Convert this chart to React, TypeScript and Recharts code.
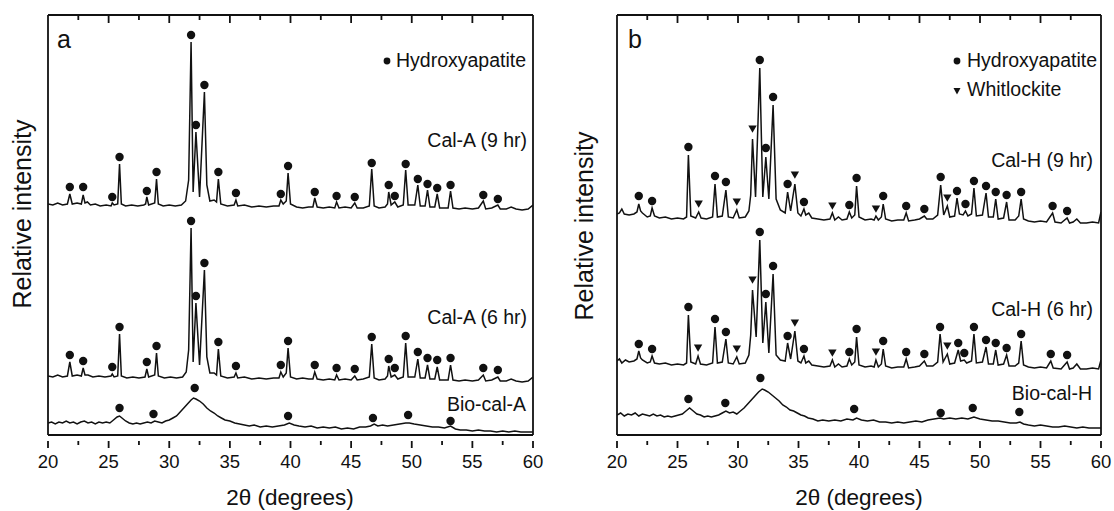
import { ComposedChart, Line, Scatter, XAxis, YAxis, ReferenceLine } from "recharts";

const FONT = "'Liberation Sans', Arial, Helvetica, sans-serif";
const INK = "#111";
const Y_MAX = 420;

// 2θ ticks: majors every 5°, minors in between
const majorTicks = [25, 30, 35, 40, 45, 50, 55];
const minorTicks = [22.5, 27.5, 32.5, 37.5, 42.5, 47.5, 52.5, 57.5];
const xTicks = [20, 22.5, 25, 27.5, 30, 32.5, 35, 37.5, 40, 42.5, 45, 47.5, 50, 52.5, 55, 57.5, 60];

// ---- panel a: [2θ, intensity (a.u.)] ----
const calA9 = [
  [20.0, 231], [20.4, 230], [20.8, 232], [21.2, 230], [21.6, 231], [21.8, 241], [22.0, 231], [22.4, 232],
  [22.75, 231], [22.9, 240], [23.05, 232], [23.25, 233], [23.5, 230], [23.9, 231], [24.3, 229], [24.8, 230],
  [25.2, 229], [25.3, 232], [25.45, 230], [25.75, 231], [25.9, 271], [26.05, 231], [26.4, 229], [26.9, 230],
  [27.4, 229], [27.9, 230], [28.05, 231], [28.15, 238], [28.3, 230], [28.8, 232], [28.95, 256], [29.1, 231],
  [29.5, 229], [30.0, 230], [30.5, 229], [31.0, 230], [31.35, 234], [31.6, 255], [31.8, 393], [31.97, 243],
  [32.2, 303], [32.5, 238], [32.9, 343], [33.1, 250], [33.35, 234], [33.7, 235], [33.9, 233], [34.05, 256],
  [34.25, 231], [34.8, 229], [35.35, 230], [35.5, 235], [35.65, 229], [36.2, 230], [36.8, 228], [37.4, 229],
  [38.0, 228], [38.6, 229], [39.05, 229], [39.2, 235], [39.4, 231], [39.65, 234], [39.8, 262], [40.0, 231],
  [40.5, 228], [41.0, 227], [41.5, 228], [41.85, 228], [42.0, 237], [42.2, 228], [42.7, 227], [43.2, 228],
  [43.65, 227], [43.8, 233], [44.0, 227], [44.5, 228], [45.0, 227], [45.3, 232], [45.5, 227], [46.0, 227],
  [46.5, 229], [46.7, 266], [46.9, 229], [47.3, 227], [47.8, 228], [48.0, 231], [48.1, 243], [48.3, 230],
  [48.6, 233], [48.85, 228], [49.3, 230], [49.5, 265], [49.7, 230], [50.25, 230], [50.5, 250], [50.7, 229],
  [51.1, 229], [51.3, 245], [51.5, 228], [51.9, 228], [52.1, 241], [52.3, 227], [52.7, 227], [53.0, 227],
  [53.2, 244], [53.4, 227], [53.9, 226], [54.4, 227], [55.0, 226], [55.5, 227], [55.9, 234], [56.1, 226],
  [56.6, 227], [57.1, 230], [57.3, 226], [57.8, 226], [58.2, 228], [58.6, 226], [59.1, 225], [59.6, 226],
  [60.0, 230],
];
const calA6 = [
  [20.0, 59], [20.4, 58], [20.8, 60], [21.2, 58], [21.6, 59], [21.8, 73], [22.0, 59], [22.4, 60],
  [22.75, 59], [22.9, 67], [23.05, 60], [23.3, 60], [23.7, 58], [24.2, 59], [24.7, 58], [25.2, 59],
  [25.3, 61], [25.45, 58], [25.75, 59], [25.9, 101], [26.05, 59], [26.5, 57], [27.0, 58], [27.5, 57],
  [28.0, 58], [28.15, 66], [28.3, 58], [28.8, 60], [28.95, 82], [29.1, 59], [29.6, 57], [30.1, 58],
  [30.6, 57], [31.1, 58], [31.4, 63], [31.6, 85], [31.8, 207], [31.97, 73], [32.2, 132], [32.5, 70],
  [32.9, 165], [33.1, 78], [33.35, 62], [33.7, 62], [33.9, 60], [34.05, 86], [34.25, 59], [34.8, 57],
  [35.35, 58], [35.5, 62], [35.65, 57], [36.2, 58], [36.8, 56], [37.4, 57], [38.0, 56], [38.6, 57],
  [39.05, 57], [39.2, 63], [39.4, 58], [39.65, 62], [39.8, 87], [40.0, 58], [40.5, 56], [41.0, 57],
  [41.5, 56], [41.85, 56], [42.0, 63], [42.2, 56], [42.7, 55], [43.2, 56], [43.65, 55], [43.8, 60],
  [44.0, 55], [44.5, 56], [45.0, 55], [45.3, 59], [45.5, 55], [46.0, 56], [46.5, 58], [46.7, 91],
  [46.9, 57], [47.3, 55], [47.8, 56], [48.0, 59], [48.1, 69], [48.3, 58], [48.6, 60], [48.85, 56],
  [49.3, 58], [49.5, 92], [49.7, 58], [50.25, 58], [50.5, 76], [50.7, 57], [51.1, 57], [51.3, 70],
  [51.5, 56], [51.9, 56], [52.1, 68], [52.3, 55], [52.7, 55], [53.0, 55], [53.2, 70], [53.4, 55],
  [53.9, 54], [54.4, 55], [55.0, 54], [55.5, 55], [55.9, 60], [56.1, 54], [56.6, 55], [57.1, 58],
  [57.3, 54], [57.8, 54], [58.2, 56], [58.6, 54], [59.1, 53], [59.6, 54], [60.0, 58],
];
const bioA = [
  [20.0, 12], [20.3, 13], [20.6, 11], [20.9, 13], [21.2, 12], [21.5, 14], [21.8, 12], [22.1, 13],
  [22.4, 11], [22.7, 13], [23.0, 14], [23.3, 12], [23.6, 13], [23.9, 11], [24.2, 13], [24.5, 12],
  [24.8, 13], [25.1, 12], [25.4, 15], [25.7, 18], [25.9, 19], [26.1, 17], [26.4, 14], [26.7, 12],
  [27.0, 11], [27.3, 12], [27.6, 11], [27.9, 12], [28.2, 13], [28.5, 12], [28.8, 14], [29.1, 13],
  [29.4, 12], [29.7, 14], [30.0, 15], [30.3, 17], [30.6, 19], [30.9, 23], [31.2, 27], [31.5, 31],
  [31.8, 35], [32.0, 37], [32.2, 36], [32.5, 34], [32.8, 31], [33.1, 27], [33.4, 24], [33.7, 22],
  [34.0, 19], [34.3, 17], [34.6, 15], [35.0, 14], [35.4, 12], [35.8, 11], [36.2, 10], [36.6, 9],
  [37.0, 10], [37.5, 8], [38.0, 9], [38.5, 8], [39.0, 9], [39.5, 10], [39.9, 12], [40.3, 10],
  [40.7, 9], [41.2, 8], [41.7, 9], [42.2, 7], [42.7, 8], [43.2, 7], [43.7, 8], [44.2, 6],
  [44.7, 7], [45.2, 6], [45.7, 8], [46.2, 8], [46.6, 9], [46.9, 11], [47.2, 9], [47.6, 10],
  [48.0, 9], [48.5, 10], [49.0, 11], [49.5, 12], [49.8, 12], [50.2, 11], [50.7, 10], [51.2, 9],
  [51.7, 8], [52.2, 8], [52.7, 7], [53.2, 9], [53.6, 6], [54.0, 5], [54.5, 5], [55.0, 4],
  [55.5, 5], [56.0, 4], [56.5, 4], [57.0, 3], [57.5, 4], [58.0, 3], [58.5, 4], [59.0, 3],
  [59.5, 3], [60.0, 3],
];
const hapA9 = [
  [21.8, 248], [22.9, 248], [25.3, 238], [25.9, 278], [28.15, 244], [28.95, 263], [31.8, 400], [32.2, 310],
  [32.9, 350], [34.05, 263], [35.5, 242], [39.2, 241], [39.8, 269], [42.0, 243], [43.8, 239], [45.3, 238],
  [46.7, 272], [48.1, 250], [48.6, 239], [49.5, 271], [50.5, 256], [51.3, 251], [52.1, 247], [53.2, 250],
  [55.9, 240], [57.1, 236],
];
const hapA6 = [
  [21.8, 80], [22.9, 74], [25.3, 68], [25.9, 108], [28.15, 73], [28.95, 89], [31.8, 214], [32.2, 139],
  [32.9, 172], [34.05, 93], [35.5, 69], [39.2, 70], [39.8, 94], [42.0, 70], [43.8, 67], [45.3, 66],
  [46.7, 98], [48.1, 76], [48.6, 67], [49.5, 99], [50.5, 83], [51.3, 77], [52.1, 75], [53.2, 77],
  [55.9, 67], [57.1, 65],
];
const hapABio = [[25.9, 27], [28.7, 21], [32.1, 47], [39.8, 19], [46.8, 17], [49.7, 20], [53.2, 14]];

// ---- panel b ----
const calH9 = [
  [20.0, 221], [20.2, 222], [20.4, 226], [20.6, 221], [21.0, 220], [21.4, 221], [21.65, 223], [21.8, 231],
  [21.95, 224], [22.1, 222], [22.5, 218], [22.75, 219], [22.9, 227], [23.1, 219], [23.5, 217], [24.0, 218],
  [24.5, 216], [25.0, 217], [25.5, 216], [25.75, 218], [25.9, 280], [26.1, 219], [26.5, 217], [26.75, 223],
  [26.95, 217], [27.4, 216], [27.9, 218], [28.1, 251], [28.3, 218], [28.7, 219], [29.0, 245], [29.2, 218],
  [29.6, 217], [29.9, 225], [30.1, 217], [30.6, 218], [30.9, 224], [31.05, 240], [31.2, 296], [31.45, 238],
  [31.8, 367], [32.05, 238], [32.3, 278], [32.55, 236], [32.9, 330], [33.15, 236], [33.5, 225], [33.9, 222],
  [34.1, 243], [34.35, 224], [34.7, 251], [34.95, 222], [35.2, 219], [35.45, 226], [35.6, 220], [35.85, 222],
  [36.1, 217], [36.6, 216], [37.1, 215], [37.6, 216], [37.8, 222], [38.0, 215], [38.3, 218], [38.6, 215],
  [39.0, 216], [39.2, 223], [39.4, 217], [39.65, 220], [39.8, 249], [40.0, 218], [40.5, 215], [41.0, 216],
  [41.25, 215], [41.4, 219], [41.6, 215], [41.85, 218], [42.0, 231], [42.2, 216], [42.7, 214], [43.2, 215],
  [43.7, 215], [43.9, 222], [44.1, 214], [44.6, 215], [45.0, 216], [45.4, 219], [45.6, 216], [46.1, 216],
  [46.5, 220], [46.75, 250], [47.0, 220], [47.3, 229], [47.5, 218], [47.9, 219], [48.1, 237], [48.3, 221],
  [48.6, 220], [48.8, 224], [49.0, 219], [49.3, 221], [49.5, 247], [49.7, 219], [50.2, 220], [50.5, 242],
  [50.7, 218], [51.1, 218], [51.3, 236], [51.5, 216], [51.95, 217], [52.2, 233], [52.4, 215], [52.9, 215],
  [53.2, 219], [53.4, 236], [53.6, 216], [54.0, 214], [54.5, 213], [55.0, 214], [55.5, 213], [56.0, 222],
  [56.2, 213], [56.7, 212], [57.2, 217], [57.4, 212], [57.7, 213], [58.0, 216], [58.3, 212], [58.8, 212],
  [59.3, 213], [59.8, 212], [60.0, 223],
];
const calH6 = [
  [20.0, 74], [20.2, 76], [20.4, 72], [20.7, 75], [21.0, 73], [21.4, 74], [21.65, 76], [21.8, 84],
  [21.95, 77], [22.1, 75], [22.5, 72], [22.75, 73], [22.9, 79], [23.1, 72], [23.5, 71], [24.0, 72],
  [24.5, 70], [25.0, 71], [25.5, 70], [25.75, 72], [25.9, 120], [26.1, 73], [26.5, 71], [26.7, 79],
  [26.9, 71], [27.4, 70], [27.9, 72], [28.1, 108], [28.3, 72], [28.7, 73], [29.0, 96], [29.2, 72],
  [29.6, 71], [29.9, 78], [30.1, 71], [30.6, 72], [30.9, 80], [31.05, 100], [31.2, 145], [31.5, 98],
  [31.8, 195], [32.05, 92], [32.3, 133], [32.55, 82], [32.9, 161], [33.15, 80], [33.5, 75], [33.9, 74],
  [34.1, 92], [34.35, 76], [34.7, 104], [34.95, 74], [35.2, 72], [35.45, 79], [35.6, 72], [35.85, 74],
  [36.1, 70], [36.6, 69], [37.1, 68], [37.6, 69], [37.8, 75], [38.0, 68], [38.3, 71], [38.6, 68],
  [39.0, 69], [39.2, 76], [39.4, 70], [39.65, 73], [39.8, 98], [40.0, 70], [40.5, 68], [41.0, 69],
  [41.25, 68], [41.4, 75], [41.6, 68], [41.85, 71], [42.0, 86], [42.2, 69], [42.7, 67], [43.2, 68],
  [43.7, 68], [43.9, 76], [44.1, 67], [44.6, 68], [45.0, 69], [45.4, 74], [45.6, 69], [46.1, 69],
  [46.5, 73], [46.7, 101], [46.95, 73], [47.3, 81], [47.5, 71], [47.9, 72], [48.2, 85], [48.4, 74],
  [48.7, 75], [48.9, 72], [49.3, 74], [49.5, 101], [49.7, 72], [50.2, 73], [50.5, 88], [50.7, 71],
  [51.1, 71], [51.3, 85], [51.5, 70], [51.95, 71], [52.2, 80], [52.4, 69], [52.9, 69], [53.2, 72],
  [53.4, 94], [53.6, 70], [54.0, 68], [54.5, 67], [55.0, 68], [55.5, 67], [55.85, 74], [56.05, 67],
  [56.7, 66], [57.2, 73], [57.4, 66], [57.7, 67], [58.0, 71], [58.3, 66], [58.8, 66], [59.3, 67],
  [59.8, 66], [60.0, 75],
];
const bioH = [
  [20.0, 20], [20.3, 22], [20.6, 19], [20.9, 21], [21.2, 20], [21.5, 22], [21.8, 19], [22.1, 21],
  [22.4, 20], [22.7, 19], [23.0, 21], [23.3, 19], [23.6, 20], [23.9, 18], [24.2, 19], [24.5, 18],
  [24.8, 19], [25.1, 20], [25.4, 21], [25.7, 24], [26.0, 27], [26.3, 24], [26.6, 21], [26.9, 20],
  [27.2, 18], [27.5, 19], [27.8, 18], [28.1, 19], [28.4, 20], [28.7, 22], [29.0, 24], [29.3, 22],
  [29.6, 23], [29.9, 21], [30.2, 24], [30.5, 27], [30.8, 31], [31.1, 35], [31.4, 39], [31.7, 43],
  [32.0, 46], [32.2, 45], [32.5, 43], [32.8, 40], [33.1, 37], [33.4, 34], [33.7, 30], [34.0, 28],
  [34.3, 25], [34.6, 24], [34.9, 22], [35.2, 20], [35.5, 19], [35.8, 17], [36.2, 16], [36.6, 14],
  [37.0, 15], [37.5, 14], [38.0, 15], [38.5, 14], [39.0, 16], [39.5, 15], [39.8, 17], [40.2, 15],
  [40.7, 14], [41.2, 15], [41.7, 13], [42.2, 13], [42.7, 12], [43.2, 13], [43.7, 12], [44.2, 13],
  [44.7, 14], [45.2, 13], [45.7, 15], [46.2, 16], [46.7, 17], [47.0, 16], [47.5, 17], [48.0, 16],
  [48.5, 17], [49.0, 16], [49.5, 18], [50.0, 16], [50.5, 15], [51.0, 14], [51.5, 14], [52.0, 13],
  [52.5, 12], [53.0, 12], [53.3, 13], [53.6, 11], [54.0, 10], [54.5, 9], [55.0, 10], [55.5, 9],
  [56.0, 8], [56.5, 8], [57.0, 9], [57.5, 8], [58.0, 7], [58.5, 8], [59.0, 7], [59.5, 7],
  [60.0, 7],
];
const hapH9 = [
  [21.8, 239], [22.9, 234], [25.9, 288], [28.1, 259], [29.0, 253], [31.8, 375], [32.3, 287], [32.9, 338],
  [34.1, 251], [35.45, 233], [39.2, 230], [39.8, 257], [42.0, 239], [43.9, 229], [45.4, 226], [46.75, 258],
  [48.1, 244], [48.8, 231], [49.5, 254], [50.5, 249], [51.3, 243], [52.2, 240], [53.4, 243], [56.0, 229],
  [57.2, 224],
];
const whH9 = [[26.75, 231], [29.9, 233], [31.2, 306], [34.7, 260], [37.8, 229], [41.4, 226], [47.3, 237]];
const hapH6 = [
  [21.8, 91], [22.9, 86], [25.9, 128], [28.1, 116], [29.0, 103], [31.8, 203], [32.3, 141], [32.9, 169],
  [34.1, 99], [35.45, 86], [39.2, 83], [39.8, 106], [42.0, 94], [43.9, 83], [45.4, 81], [46.7, 108],
  [48.2, 92], [48.7, 82], [49.5, 108], [50.5, 95], [51.3, 92], [52.2, 87], [53.4, 101], [55.85, 81],
  [57.2, 80],
];
const whH6 = [[26.7, 87], [29.9, 86], [31.2, 155], [34.7, 112], [37.8, 82], [41.4, 83], [47.3, 89]];
const hapHBio = [[25.9, 36], [28.95, 32], [31.85, 57], [39.6, 26], [46.75, 22], [49.4, 27], [53.25, 23]];

const pts = (a: number[][]) => a.map(([x, y]) => ({ x, y }));

function BottomTick(props: any) {
  const { x, y, payload } = props;
  const major = payload.value % 5 === 0;
  return (
    <g>
      <line x1={x} x2={x} y1={y} y2={y + (major ? 7 : 4)} stroke={INK} strokeWidth={1.8} />
      {major && (
        <text x={x} y={y + 27} textAnchor="middle" fontSize={18.5} fontFamily={FONT} fill={INK}>
          {payload.value}
        </text>
      )}
    </g>
  );
}

const HapDot = (p: any) => <circle cx={p.cx} cy={p.cy} r={4.2} fill={INK} />;
const WhitTri = (p: any) => (
  <path d={`M${p.cx - 4.2},${p.cy - 3.6}L${p.cx + 4.2},${p.cy - 3.6}L${p.cx},${p.cy + 3.8}Z`} fill={INK} />
);

function Txt({ x, y, size = 19.5, align = "left", children }: any) {
  const tx = align === "right" ? "-100%" : align === "center" ? "-50%" : "0";
  return (
    <div
      style={{
        position: "absolute",
        left: x,
        top: y,
        transform: `translate(${tx}, -50%)`,
        fontSize: size,
        fontFamily: FONT,
        color: INK,
        whiteSpace: "nowrap",
        lineHeight: 1,
      }}
    >
      {children}
    </div>
  );
}

function YTitle({ x, y }: any) {
  return (
    <div
      style={{
        position: "absolute",
        left: x,
        top: y,
        transform: "translate(-50%, -50%) rotate(-90deg)",
        fontSize: 25,
        fontFamily: FONT,
        color: INK,
        whiteSpace: "nowrap",
        lineHeight: 1,
      }}
    >
      Relative intensity
    </div>
  );
}

function Panel({ left, mL, mR, traces, hap, whit }: any) {
  const axisLine = { stroke: INK, strokeWidth: 1.8 };
  return (
    <div style={{ position: "absolute", left, top: 0 }}>
      <ComposedChart width={557} height={511} margin={{ top: 14, right: mR - 1, bottom: 36, left: mL - 1 }}>
        <XAxis
          xAxisId="b"
          type="number"
          dataKey="x"
          domain={[20, 60]}
          ticks={xTicks}
          interval={0}
          allowDataOverflow
          axisLine={axisLine}
          tickLine={false}
          tickMargin={0}
          height={40}
          tick={(p: any) => <BottomTick {...p} />}
        />
        <XAxis
          xAxisId="t"
          orientation="top"
          type="number"
          domain={[20, 60]}
          allowDataOverflow
          axisLine={axisLine}
          tickLine={false}
          tick={false}
          height={1}
        />
        <YAxis yAxisId="l" type="number" domain={[0, Y_MAX]} allowDataOverflow width={1} axisLine={axisLine} tick={false} tickLine={false} />
        <YAxis yAxisId="r" orientation="right" type="number" domain={[0, Y_MAX]} allowDataOverflow width={1} axisLine={axisLine} tick={false} tickLine={false} />
        {/* inward ticks on the top frame */}
        {majorTicks.map((t) => (
          <ReferenceLine
            key={`M${t}`}
            xAxisId="b"
            yAxisId="l"
            segment={[{ x: t, y: Y_MAX }, { x: t, y: Y_MAX - 8 }]}
            stroke={INK}
            strokeWidth={1.8}
          />
        ))}
        {minorTicks.map((t) => (
          <ReferenceLine
            key={`m${t}`}
            xAxisId="b"
            yAxisId="l"
            segment={[{ x: t, y: Y_MAX }, { x: t, y: Y_MAX - 5 }]}
            stroke={INK}
            strokeWidth={1.8}
          />
        ))}
        {traces.map((t: number[][], i: number) => (
          <Line
            key={i}
            xAxisId="b"
            yAxisId="l"
            data={pts(t)}
            dataKey="y"
            type="linear"
            stroke={INK}
            strokeWidth={1.5}
            dot={false}
            isAnimationActive={false}
          />
        ))}
        <Scatter xAxisId="b" yAxisId="l" data={pts(hap)} dataKey="y" shape={HapDot} isAnimationActive={false} />
        {whit && (
          <Scatter xAxisId="b" yAxisId="l" data={pts(whit)} dataKey="y" shape={WhitTri} isAnimationActive={false} />
        )}
      </ComposedChart>
    </div>
  );
}

export default function App() {
  return (
    <div style={{ position: "absolute", left: 0, top: 0, width: 1114, height: 511, background: "#fff" }}>
      <Panel left={0} mL={48} mR={24} traces={[calA9, calA6, bioA]} hap={[...hapA9, ...hapA6, ...hapABio]} />
      <Panel
        left={557}
        mL={60}
        mR={13}
        traces={[calH9, calH6, bioH]}
        hap={[...hapH9, ...hapH6, ...hapHBio]}
        whit={[...whH9, ...whH6]}
      />

      <Txt x={57} y={39} size={25}>a</Txt>
      <svg style={{ position: "absolute", left: 383, top: 57 }} width={8} height={8}>
        <circle cx={4} cy={4} r={3.4} fill={INK} />
      </svg>
      <Txt x={396} y={61}>Hydroxyapatite</Txt>
      <Txt x={527} y={141} align="right">Cal-A (9 hr)</Txt>
      <Txt x={527} y={318} align="right">Cal-A (6 hr)</Txt>
      <Txt x={526} y={405} align="right">Bio-cal-A</Txt>
      <Txt x={290} y={498} size={22.5} align="center">2θ (degrees)</Txt>
      <YTitle x={22} y={214} />

      <Txt x={628} y={39} size={25}>b</Txt>
      <svg style={{ position: "absolute", left: 953, top: 57 }} width={8} height={8}>
        <circle cx={4} cy={4} r={3.4} fill={INK} />
      </svg>
      <Txt x={967} y={61}>Hydroxyapatite</Txt>
      <svg style={{ position: "absolute", left: 953, top: 87 }} width={8} height={8}>
        <path d="M0.5,1L7.5,1L4,7.5Z" fill={INK} />
      </svg>
      <Txt x={967} y={90}>Whitlockite</Txt>
      <Txt x={1093} y={161} align="right">Cal-H (9 hr)</Txt>
      <Txt x={1093} y={310} align="right">Cal-H (6 hr)</Txt>
      <Txt x={1092} y={394} align="right">Bio-cal-H</Txt>
      <Txt x={859} y={498} size={22.5} align="center">2θ (degrees)</Txt>
      <YTitle x={584} y={226} />
    </div>
  );
}
